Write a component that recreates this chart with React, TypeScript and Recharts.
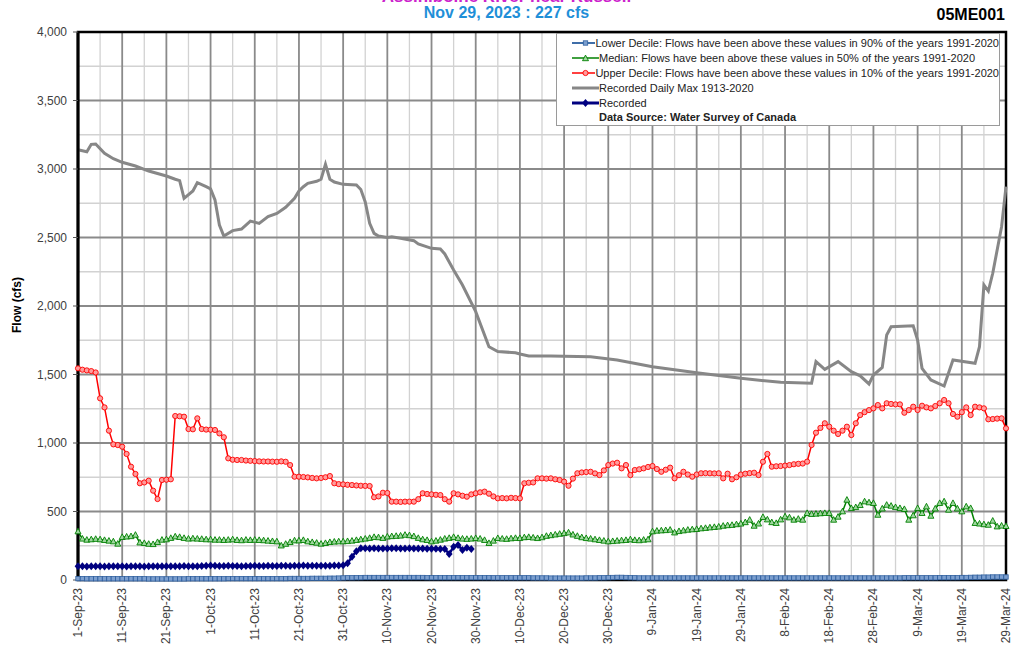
import React from "react";
import { CartesianGrid, Line, LineChart, ReferenceArea, XAxis, YAxis } from "recharts";

// day 0 = 1-Sep-23, day 210 = 29-Mar-24
const tickDays = [0, 10, 20, 30, 40, 50, 60, 70, 80, 90, 100, 110, 120, 130, 140, 150, 160, 170, 180, 190, 200, 210];
const tickLabels = [
  "1-Sep-23", "11-Sep-23", "21-Sep-23", "1-Oct-23", "11-Oct-23", "21-Oct-23", "31-Oct-23",
  "10-Nov-23", "20-Nov-23", "30-Nov-23", "10-Dec-23", "20-Dec-23", "30-Dec-23", "9-Jan-24",
  "19-Jan-24", "29-Jan-24", "8-Feb-24", "18-Feb-24", "28-Feb-24", "9-Mar-24", "19-Mar-24", "29-Mar-24",
];
const minorDays = [5, 15, 25, 35, 45, 55, 65, 75, 85, 95, 105, 115, 125, 135, 145, 155, 165, 175, 185, 195, 205];
const yTicks = [0, 500, 1000, 1500, 2000, 2500, 3000, 3500, 4000];
const yMinor = [250, 750, 1250, 1750, 2250, 2750, 3250, 3750];

// daily values, one per day from 1-Sep-23
const lowerDecile = [
  10, 10, 9, 9, 9, 9, 9, 9, 9, 9,
  9, 9, 9, 9, 9, 9, 8, 8, 8, 8,
  8, 8, 8, 8, 8, 9, 9, 9, 9, 9,
  9, 9, 9, 9, 10, 10, 10, 10, 10, 10,
  10, 10, 10, 10, 10, 10, 10, 10, 11, 11,
  11, 11, 11, 12, 12, 12, 12, 13, 13, 14,
  15, 16, 16, 17, 17, 18, 18, 18, 18, 18,
  18, 18, 18, 18, 18, 18, 18, 18, 18, 17,
  17, 17, 17, 17, 17, 17, 17, 17, 17, 17,
  17, 17, 17, 17, 16, 16, 16, 16, 16, 16,
  16, 16, 16, 15, 15, 15, 15, 14, 14, 14,
  14, 14, 14, 14, 14, 15, 15, 15, 16, 16,
  17, 18, 19, 19, 18, 17, 16, 15, 15, 15,
  15, 15, 15, 15, 15, 15, 15, 15, 15, 15,
  15, 15, 15, 15, 15, 15, 15, 15, 15, 15,
  15, 15, 15, 15, 15, 15, 15, 15, 15, 15,
  15, 15, 15, 15, 15, 15, 15, 15, 15, 15,
  15, 15, 15, 15, 15, 15, 15, 15, 15, 15,
  15, 15, 15, 15, 15, 15, 15, 16, 16, 16,
  16, 16, 16, 16, 16, 17, 17, 17, 17, 17,
  18, 18, 19, 20, 20, 21, 21, 22, 22, 22,
  22,
];

const median = [
  353, 300, 292, 295, 298, 295, 290, 285, 280, 263,
  312, 315, 318, 328, 272, 268, 262, 260, 275, 292,
  295, 305, 316, 312, 305, 300, 302, 300, 298, 295,
  295, 292, 292, 290, 292, 295, 290, 288, 292, 290,
  292, 290, 288, 285, 282, 280, 250, 262, 275, 287,
  287, 290, 280, 275, 270, 263, 268, 275, 278, 280,
  280, 282, 285, 290, 295, 300, 305, 312, 310, 305,
  315, 318, 320, 322, 328, 325, 318, 305, 295, 290,
  280, 285, 292, 300, 305, 312, 305, 300, 298, 300,
  304, 300, 290, 268, 285, 304, 300, 298, 302, 305,
  304, 310, 312, 308, 304, 310, 320, 325, 330, 335,
  340, 345, 330, 320, 310, 304, 300, 295, 290, 285,
  280, 282, 285, 288, 290, 295, 290, 288, 292, 295,
  353, 358, 360, 362, 365, 345, 355, 360, 365, 368,
  370, 375, 378, 382, 385, 388, 394, 398, 400, 405,
  410, 420, 438, 394, 410, 458, 440, 420, 414, 440,
  462, 455, 438, 445, 438, 487, 480, 482, 485, 487,
  487, 438, 460, 499, 584, 523, 530, 545, 572, 565,
  560, 474, 520, 547, 540, 530, 523, 516, 438, 470,
  523, 487, 535, 467, 520, 560, 572, 511, 560, 520,
  499, 535, 523, 414, 410, 405, 401, 431, 389, 395,
  392,
];

const upperDecile = [
  1545, 1535, 1530, 1525, 1515, 1326, 1260, 1090, 990, 985,
  973, 920, 827, 774, 706, 712, 725, 652, 591, 730,
  732, 735, 1197, 1195, 1192, 1102, 1100, 1180, 1102, 1098,
  1097, 1095, 1070, 1042, 888, 878, 876, 876, 872, 870,
  868, 866, 865, 865, 864, 863, 866, 863, 839, 754,
  754, 752, 749, 745, 742, 745, 750, 759, 706, 700,
  698, 695, 693, 690, 688, 687, 686, 604, 610, 637,
  635, 572, 572, 570, 572, 572, 572, 590, 633, 628,
  625, 622, 620, 590, 572, 633, 625, 615, 608, 625,
  633, 640, 645, 630, 610, 596, 598, 596, 600, 598,
  596, 706, 710, 712, 742, 742, 740, 742, 735, 730,
  718, 688, 740, 779, 785, 788, 790, 778, 766, 800,
  839, 850, 856, 815, 839, 766, 803, 808, 815, 825,
  832, 810, 790, 805, 820, 742, 765, 790, 770, 754,
  770, 779, 780, 779, 778, 779, 742, 776, 735, 750,
  770, 776, 780, 783, 766, 863, 920, 827, 830, 832,
  835, 839, 845, 848, 850, 864, 985, 1075, 1110, 1144,
  1119, 1090, 1066, 1090, 1119, 1058, 1144, 1204, 1225, 1240,
  1253, 1277, 1253, 1290, 1285, 1282, 1282, 1221, 1240, 1265,
  1241, 1272, 1260, 1253, 1270, 1290, 1314, 1290, 1212, 1192,
  1225, 1260, 1204, 1265, 1260, 1253, 1173, 1175, 1178, 1180,
  1107,
];

// recorded daily max 1913-2020, read at the days where the curve bends
const maxDays = [
  0, 2, 3, 4, 6, 8, 10, 13, 16, 20, 22, 23, 24, 26, 27, 29, 30, 31, 32, 33, 35, 37, 39, 41, 43, 45,
  47, 49, 50, 51, 52, 54, 55, 56, 57, 58, 60, 63, 64, 65, 66, 67, 68, 70, 71, 73, 76, 77, 80, 82,
  83, 85, 87, 90, 93, 95, 99, 100, 102, 107, 116, 122, 130, 140, 150, 159, 166, 167, 169, 172, 175,
  177, 179, 180, 182, 183, 184, 189, 190, 191, 193, 196, 198, 203, 204, 205, 206, 207, 209, 210,
];
const maxValues = [
  3140, 3126, 3180, 3182, 3114, 3075, 3049, 3022, 2985, 2949, 2925, 2915, 2786, 2840, 2900, 2871, 2855,
  2774, 2591, 2511, 2550, 2562, 2620, 2603, 2652, 2676, 2720, 2786, 2840, 2871, 2895, 2910, 2925, 3034,
  2925, 2905, 2888, 2883, 2850, 2760, 2603, 2530, 2511, 2501, 2506, 2495, 2477, 2453, 2421, 2416, 2380,
  2263, 2153, 1959, 1703, 1667, 1659, 1650, 1635, 1635, 1630, 1606, 1557, 1513, 1472, 1443, 1436, 1594,
  1538, 1594, 1521, 1490, 1431, 1496, 1552, 1788, 1849, 1856, 1752, 1545, 1460, 1416, 1606, 1582, 1703,
  2153, 2109, 2239, 2579, 2871,
];

// recorded 2023, 1-Sep to 29-Nov
const recorded = [
  100, 100, 98, 100, 100, 100, 98, 100, 100, 100,
  100, 98, 100, 100, 100, 98, 100, 100, 100, 100,
  100, 100, 100, 100, 102, 100, 100, 100, 102, 104,
  106, 104, 102, 102, 104, 102, 102, 100, 102, 102,
  104, 102, 102, 104, 102, 102, 104, 104, 102, 104,
  104, 106, 104, 104, 104, 104, 104, 104, 106, 106,
  108, 122, 170, 210, 231, 232, 230, 232, 230, 230,
  230, 232, 232, 230, 230, 232, 230, 230, 230, 228,
  228, 228, 226, 226, 190, 243, 255, 219, 236, 227,
];

const daily = (vals: number[]) => vals.map((v, i) => ({ d: i, v }));
const maxData = maxDays.map((d, i) => ({ d, v: maxValues[i] }));

const FONT = '"Liberation Sans", Arial, sans-serif';

const squareDot = (p: any) =>
  p.cx == null ? null : (
    <rect key={p.index} x={p.cx - 2.2} y={p.cy - 2.2} width={4.4} height={4.4} fill="#7c9fcf" stroke="#2f5f9e" strokeWidth={0.8} />
  );
const triDot = (p: any) =>
  p.cx == null ? null : (
    <path key={p.index} d={`M${p.cx},${p.cy - 3.4}L${p.cx + 3},${p.cy + 2.2}L${p.cx - 3},${p.cy + 2.2}Z`} fill="#9fd69f" stroke="#008000" strokeWidth={0.9} />
  );
const circleDot = (p: any) =>
  p.cx == null ? null : <circle key={p.index} cx={p.cx} cy={p.cy} r={2.6} fill="#ff9c9c" stroke="#ff0000" strokeWidth={0.9} />;
const diamondDot = (p: any) =>
  p.cx == null ? null : (
    <path key={p.index} d={`M${p.cx},${p.cy - 4}L${p.cx + 3.4},${p.cy}L${p.cx},${p.cy + 4}L${p.cx - 3.4},${p.cy}Z`} fill="#000080" />
  );

const XTick = ({ x, y, payload }: any) => {
  const idx = tickDays.indexOf(payload.value);
  return (
    <text x={x} y={y} transform={`rotate(-90 ${x} ${y})`} dy={4} textAnchor="end" fontSize={12} fill="#404040" fontFamily={FONT}>
      {tickLabels[idx]}
    </text>
  );
};

const legendItems = [
  { label: "Lower Decile: Flows have been above these values in 90% of the years 1991-2020", color: "#3f6ea8", w: 2, mark: "square" },
  { label: "Median: Flows have been above these values in 50% of the years 1991-2020", color: "#008000", w: 1.5, mark: "tri" },
  { label: "Upper Decile: Flows have been above these values in 10% of the years 1991-2020", color: "#ff0000", w: 1.5, mark: "circle" },
  { label: "Recorded Daily Max 1913-2020", color: "#878787", w: 3, mark: "" },
  { label: "Recorded", color: "#000080", w: 3, mark: "diamond" },
];

function LegendSample({ color, w, mark }: { color: string; w: number; mark: string }) {
  return (
    <svg width={27} height={10} style={{ display: "block" }}>
      <line x1={0} y1={5} x2={27} y2={5} stroke={color} strokeWidth={w} />
      {mark === "square" && squareDot({ cx: 13.5, cy: 5, index: 0 })}
      {mark === "tri" && triDot({ cx: 13.5, cy: 5.5, index: 0 })}
      {mark === "circle" && circleDot({ cx: 13.5, cy: 5, index: 0 })}
      {mark === "diamond" && diamondDot({ cx: 13.5, cy: 5, index: 0 })}
    </svg>
  );
}

export default function App() {
  return (
    <div style={{ position: "absolute", left: 0, top: 0, width: 1013, height: 656, background: "#fff", overflow: "hidden", fontFamily: FONT }}>
      <div style={{ position: "absolute", left: 0, width: 1013, top: -13, textAlign: "center", fontSize: 17, fontWeight: "bold", color: "#cc22cc" }}>
        Assiniboine River near Russell
      </div>
      <div style={{ position: "absolute", left: 0, width: 1013, top: 4, textAlign: "center", fontSize: 16, fontWeight: "bold", color: "#1f8fd8" }}>
        Nov 29, 2023 : 227 cfs
      </div>
      <div style={{ position: "absolute", right: 8, top: 6, fontSize: 16, fontWeight: "bold", color: "#000" }}>05ME001</div>
      <div style={{ position: "absolute", left: 5, top: 305, transform: "translate(-50%, -50%) rotate(-90deg)", transformOrigin: "center", marginLeft: 12, fontSize: 12, fontWeight: "bold", whiteSpace: "nowrap" }}>
        Flow (cfs)
      </div>

      <LineChart width={1013} height={656} margin={{ top: 32, right: 7, bottom: 6, left: 0 }} style={{ position: "absolute", left: 0, top: 0 }}>
        <CartesianGrid horizontalValues={yMinor} verticalValues={minorDays} stroke="#d2d2d2" strokeWidth={1.3} />
        <CartesianGrid horizontalValues={yTicks} verticalValues={tickDays} stroke="#8a8a8a" strokeWidth={1.8} />
        <XAxis
          type="number"
          dataKey="d"
          domain={[0, 210]}
          ticks={tickDays}
          interval={0}
          height={70}
          tick={<XTick />}
          tickLine={false}
          axisLine={false}
        />
        <YAxis
          type="number"
          domain={[0, 4000]}
          ticks={yTicks}
          width={78}
          tickSize={5}
          tickMargin={6}
          tickLine={{ stroke: "#555" }}
          axisLine={{ stroke: "#000", strokeWidth: 3 }}
          tick={{ fontSize: 12, fill: "#404040", fontFamily: FONT }}
          tickFormatter={(v: number) => v.toLocaleString("en-US")}
        />
        <ReferenceArea x1={0} x2={210} y1={0} y2={4000} fill="none" stroke="#000" strokeWidth={2.5} />
        <Line data={maxData} dataKey="v" stroke="#878787" strokeWidth={3} dot={false} isAnimationActive={false} />
        <Line data={daily(upperDecile)} dataKey="v" stroke="#ff0000" strokeWidth={1.5} dot={circleDot} isAnimationActive={false} />
        <Line data={daily(median)} dataKey="v" stroke="#008000" strokeWidth={1.5} dot={triDot} isAnimationActive={false} />
        <Line data={daily(lowerDecile)} dataKey="v" stroke="#2f5f9e" strokeWidth={3} dot={squareDot} isAnimationActive={false} />
        <Line data={daily(recorded)} dataKey="v" stroke="#000080" strokeWidth={2.5} dot={diamondDot} isAnimationActive={false} />
      </LineChart>

      <div style={{ position: "absolute", left: 556, top: 33, width: 442, height: 89, background: "#fff", border: "1px solid #9a9a9a", fontSize: 11, color: "#222", paddingTop: 2 }}>
        {legendItems.map((it) => (
          <div key={it.label} style={{ display: "flex", alignItems: "center", height: 14.8, paddingLeft: 15 }}>
            <LegendSample color={it.color} w={it.w} mark={it.mark} />
            <span style={{ whiteSpace: "nowrap" }}>{it.label}</span>
          </div>
        ))}
        <div style={{ height: 14.8, paddingLeft: 42, fontWeight: "bold", display: "flex", alignItems: "center" }}>
          Data Source: Water Survey of Canada
        </div>
      </div>
    </div>
  );
}
